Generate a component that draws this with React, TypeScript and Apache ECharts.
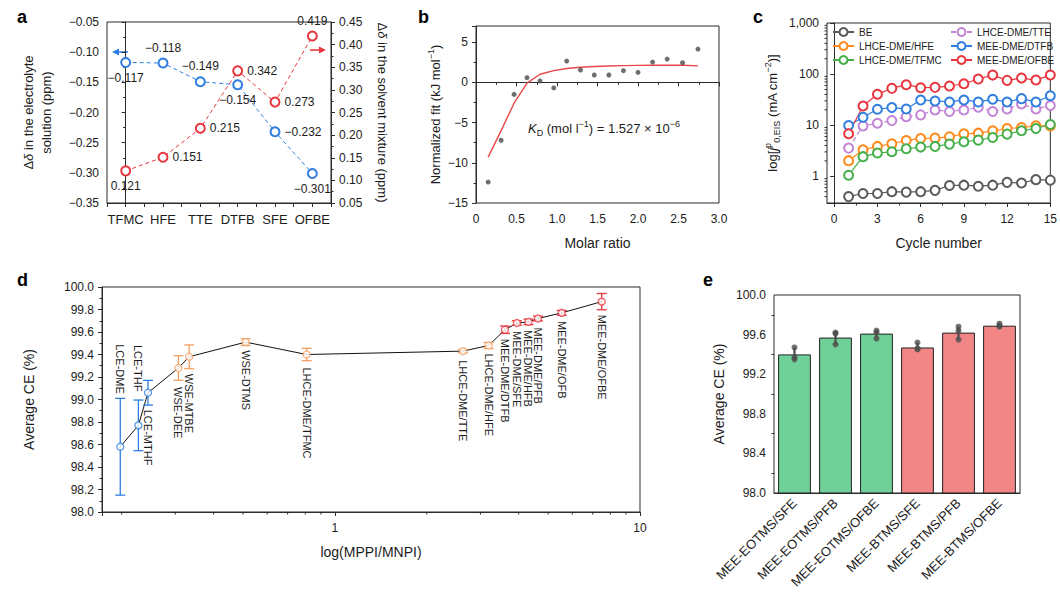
import React, { useEffect, useRef } from 'react';
import * as echarts from 'echarts';

const FONT = '"Liberation Sans", Arial, Helvetica, sans-serif';
const INK = '#1c1c1c';
const AXIS = '#2b2b2b';
const BLUE = '#2f7ee0';
const RED = '#e8363e';
const ORANGE = '#f4a062';
const GREEN_BAR = '#6fd198';
const RED_BAR = '#f28686';

// panel a: chemical shift changes
const solvents = ['TFMC', 'HFE', 'TTE', 'DTFB', 'SFE', 'OFBE'];
const shiftInElectrolyte = [-0.117, -0.118, -0.149, -0.154, -0.232, -0.301];
const shiftInSolvent = [0.121, 0.151, 0.215, 0.342, 0.273, 0.419];
const electrolyteLabelSide = ['bottom', 'top', 'top', 'bottom', 'right', 'bottom'];
const solventLabelSide = ['bottom', 'right', 'right', 'right', 'right', 'top'];

// panel b: titration
const molarRatio = [0.15, 0.31, 0.47, 0.63, 0.79, 0.96, 1.12, 1.29, 1.46, 1.64, 1.82, 2.0, 2.18, 2.36, 2.55, 2.74];
const normalizedHeat = [-12.4, -7.2, -1.5, 0.58, 0.17, -0.7, 2.64, 1.53, 0.91, 0.91, 1.45, 1.24, 2.52, 2.89, 2.44, 4.13];
const fittedHeat = [-9.3, -6.0, -2.6, -0.1, 1.0, 1.45, 1.72, 1.88, 1.97, 2.03, 2.07, 2.1, 2.12, 2.13, 2.13, 2.05];

// panel c: exchange current density
const cycleNumber = [1, 2, 3, 4, 5, 6, 7, 8, 9, 10, 11, 12, 13, 14, 15];
const j0BE = [0.4, 0.46, 0.46, 0.5, 0.49, 0.5, 0.53, 0.66, 0.67, 0.64, 0.67, 0.76, 0.74, 0.86, 0.84];
const j0HFE = [2.02, 3.31, 3.84, 4.33, 5.03, 5.5, 5.58, 5.93, 6.78, 6.98, 7.76, 8.61, 9.0, 9.7, 9.7];
const j0TFMC = [1.05, 2.42, 2.85, 3.02, 3.46, 3.73, 3.84, 4.26, 4.74, 5.1, 5.75, 6.68, 7.76, 8.61, 10.3];
const j0TTE = [3.56, 9.7, 10.9, 12.3, 14.7, 15.9, 19.9, 18.5, 19.9, 22.4, 18.5, 20.8, 26.0, 20.8, 24.2];
const j0DTFB = [9.86, 14.3, 20.5, 22.1, 20.8, 31.2, 29.8, 28.5, 31.2, 28.5, 32.1, 28.5, 33.1, 28.5, 37.8];
const j0OFBE = [6.78, 23.8, 40.2, 52.6, 62.0, 54.2, 55.0, 58.4, 64.8, 80.0, 95.7, 75.3, 83.6, 76.4, 95.7];
const cycleTicks = [0, 3, 6, 9, 12, 15];
const cycleMinorTicks = [1.5, 4.5, 7.5, 10.5, 13.5];
const logMinorTicks = [0.4, 0.5, 0.6, 0.7, 0.8, 0.9, 2, 3, 4, 5, 6, 7, 8, 9, 20, 30, 40, 50, 60, 70, 80, 90, 200, 300, 400, 500, 600, 700, 800, 900];
const legendLeft = ['BE', 'LHCE-DME/HFE', 'LHCE-DME/TFMC'];
const legendRight = ['LHCE-DME/TTE', 'MEE-DME/DTFB', 'MEE-DME/OFBE'];

// panel d: CE versus MPPI/MNPI
const dNames = ['LCE-DME', 'LCE-THF', 'LCE-MTHF', 'WSE-DEE', 'WSE-MTBE', 'WSE-DTMS', 'LHCE-DME/TFMC', 'LHCE-DME/TTE', 'LHCE-DME/HFE', 'MEE-DME/DTFB', 'MEE-DME/SFE', 'MEE-DME/HFB', 'MEE-DME/PFB', 'MEE-DME/OFB', 'MEE-DME/OFBE'];
const dRatio = [0.198, 0.227, 0.244, 0.307, 0.333, 0.51, 0.808, 2.63, 3.19, 3.61, 3.95, 4.31, 4.63, 5.54, 7.49];
const dCE = [98.58, 98.77, 99.06, 99.28, 99.38, 99.51, 99.4, 99.43, 99.48, 99.62, 99.68, 99.69, 99.72, 99.77, 99.87];
const dErr = [0.43, 0.225, 0.11, 0.11, 0.105, 0.03, 0.055, 0.015, 0.027, 0.033, 0.02, 0.024, 0.021, 0.021, 0.072];
const dFamily = ['LCE', 'LCE', 'LCE', 'WSE', 'WSE', 'WSE', 'LHCE', 'LHCE', 'LHCE', 'MEE', 'MEE', 'MEE', 'MEE', 'MEE', 'MEE'];
const dLabelSide = ['top', 'top', 'bottom', 'bottom', 'bottom', 'bottom', 'bottom', 'bottom', 'bottom', 'bottom', 'bottom', 'bottom', 'bottom', 'bottom', 'bottom'];
const dLabelGap = [53, 34, 17, 19, 17, 8, 13, 9, 8, 9, 8, 8, 9, 8, 13];
const dMinorTicks = [0.2, 0.3, 0.4, 0.5, 0.6, 0.7, 0.8, 0.9, 2, 3, 4, 5, 6, 7, 8, 9];

// panel e: CE of MEE variants
const eNames = ['MEE-EOTMS/SFE', 'MEE-EOTMS/PFB', 'MEE-EOTMS/OFBE', 'MEE-BTMS/SFE', 'MEE-BTMS/PFB', 'MEE-BTMS/OFBE'];
const eMean = [99.4, 99.57, 99.61, 99.47, 99.62, 99.69];
const eRepeats = [
  [99.47, 99.37, 99.35],
  [99.62, 99.61, 99.5],
  [99.64, 99.62, 99.56],
  [99.52, 99.46, 99.45],
  [99.68, 99.64, 99.55],
  [99.71, 99.69, 99.68],
];

const minus = (s: string) => s.replace('-', '\u2212');
const isPow10 = (v: number) => Math.abs(Math.log10(v) - Math.round(Math.log10(v))) < 1e-6;

const rich = (size: number) => {
  const small = Math.round(size * 0.7);
  const lh = Math.round(size * 1.4);
  return {
    n: { fontSize: size, fontFamily: FONT, color: INK },
    i: { fontSize: size, fontFamily: FONT, color: INK, fontStyle: 'italic' },
    sup: { fontSize: small, fontFamily: FONT, color: INK, verticalAlign: 'top', lineHeight: lh },
    sub: { fontSize: small, fontFamily: FONT, color: INK, verticalAlign: 'bottom', lineHeight: lh },
  };
};

const line = { lineStyle: { color: AXIS, width: 1 } };
const tickLabel = (size = 12, extra = {}) => ({ color: INK, fontSize: size, fontFamily: FONT, ...extra });
const nameStyle = (size = 14) => ({ color: INK, fontSize: size, fontFamily: FONT, rich: rich(size) });

const App = () => {
  const chartRef = useRef<HTMLDivElement>(null);

  useEffect(() => {
    const chart = echarts.init(chartRef.current, null, { renderer: 'svg' });

    const exchangeSeries = [
      { name: 'BE', data: j0BE, color: '#5a5a5a', dashed: false },
      { name: 'LHCE-DME/HFE', data: j0HFE, color: '#ff8a1c', dashed: false },
      { name: 'LHCE-DME/TFMC', data: j0TFMC, color: '#45b04a', dashed: false },
      { name: 'LHCE-DME/TTE', data: j0TTE, color: '#c383d6', dashed: true },
      { name: 'MEE-DME/DTFB', data: j0DTFB, color: BLUE, dashed: false },
      { name: 'MEE-DME/OFBE', data: j0OFBE, color: RED, dashed: false },
    ];

    const legendBase = {
      orient: 'vertical', top: 27, padding: 0, itemGap: 4, itemWidth: 21, itemHeight: 10,
      selectedMode: false, textStyle: { fontSize: 10, color: INK, fontFamily: FONT },
    };

    const errorBarRender = (color: string) => (params: any, api: any) => {
      const x = api.value(0);
      const top = api.coord([x, api.value(2)]);
      const bot = api.coord([x, api.value(1)]);
      const w = 5;
      const style = { stroke: color, lineWidth: 1.3 };
      return {
        type: 'group',
        children: [
          { type: 'line', shape: { x1: top[0], y1: top[1], x2: bot[0], y2: bot[1] }, style },
          { type: 'line', shape: { x1: top[0] - w, y1: top[1], x2: top[0] + w, y2: top[1] }, style },
          { type: 'line', shape: { x1: bot[0] - w, y1: bot[1], x2: bot[0] + w, y2: bot[1] }, style },
        ],
      };
    };

    const dIdx = (fam: string[]) => dNames.map((_, i) => i).filter((i) => fam.includes(dFamily[i]));
    const dGroups = [
      { idx: dIdx(['LCE']), color: BLUE },
      { idx: dIdx(['WSE', 'LHCE']), color: ORANGE },
      { idx: dIdx(['MEE']), color: RED },
    ];

    const signedLabel = (p: any) => {
      const v = p.value[1];
      return (v < 0 ? '\u2212' : '') + Math.abs(v).toFixed(3);
    };

    const option = {
      animation: false,
      textStyle: { fontFamily: FONT },
      grid: [
        { left: 107, top: 22, width: 224, height: 181 },
        { left: 476, top: 26, width: 243, height: 177 },
        { left: 827, top: 23, width: 225, height: 180 },
        { left: 102, top: 287, width: 538, height: 225 },
        { left: 774, top: 295, width: 246, height: 198 },
      ].map((g) => ({ ...g, show: true, borderColor: AXIS, borderWidth: 1, backgroundColor: 'transparent' })),
      legend: [
        { ...legendBase, left: 832, data: legendLeft },
        { ...legendBase, left: 950, data: legendRight },
      ],
      xAxis: [
        {
          gridIndex: 0, type: 'value', min: -0.5, max: 5.5, interval: 0.5,
          axisLine: line, axisTick: { length: 4, ...line }, splitLine: { show: false },
          axisLabel: tickLabel(13, { margin: 10, formatter: (v: number) => (Number.isInteger(v) ? solvents[v] : '') }),
        },
        {
          gridIndex: 1, type: 'value', min: 0, max: 3, interval: 0.5,
          name: 'Molar ratio', nameLocation: 'middle', nameGap: 33, nameTextStyle: nameStyle(14),
          axisLine: line, axisTick: { length: 4, ...line }, minorTick: { show: true, splitNumber: 2, length: 2.5, ...line },
          splitLine: { show: false }, minorSplitLine: { show: false },
          axisLabel: tickLabel(12, { margin: 10, formatter: (v: number) => (v === 0 ? '0' : v.toFixed(1)) }),
        },
        {
          gridIndex: 2, type: 'value', min: -0.5, max: 15,
          name: 'Cycle number', nameLocation: 'middle', nameGap: 33, nameTextStyle: nameStyle(14),
          axisLine: line, axisTick: { length: 4, customValues: cycleTicks, ...line }, splitLine: { show: false },
          axisLabel: tickLabel(12, { margin: 10, customValues: cycleTicks }),
        },
        {
          gridIndex: 2, type: 'value', min: -0.5, max: 15, position: 'bottom',
          axisLine: { show: false }, axisTick: { length: 2.5, customValues: cycleMinorTicks, ...line },
          axisLabel: { show: false }, splitLine: { show: false },
        },
        {
          gridIndex: 3, type: 'log', logBase: 10, min: 0.1725, max: 10,
          name: 'log(MPPI/MNPI)', nameLocation: 'middle', nameGap: 33, nameTextStyle: nameStyle(14),
          axisLine: line, axisTick: { length: 4, ...line }, splitLine: { show: false }, minorTick: { show: false },
          axisLabel: tickLabel(12, { margin: 10, formatter: (v: number) => (isPow10(v) ? String(Math.round(v)) : '') }),
        },
        {
          gridIndex: 4, type: 'category', data: eNames,
          axisLine: line, axisTick: { length: 4, interval: 0, alignWithLabel: false, ...line },
          axisLabel: tickLabel(13, { rotate: 45, interval: 0, margin: 8 }),
        },
        {
          gridIndex: 4, type: 'category', data: eNames, position: 'bottom',
          axisLine: { show: false }, axisTick: { length: 4, interval: 0, alignWithLabel: true, ...line },
          axisLabel: { show: false },
        },
      ],
      yAxis: [
        {
          gridIndex: 0, type: 'value', position: 'left', min: -0.35, max: -0.05, interval: 0.05,
          name: '{n|\u0394}{i|\u03b4}{n| in the electrolyte}\n{n|solution (ppm)}',
          nameLocation: 'middle', nameGap: 52, nameTextStyle: { ...nameStyle(13), lineHeight: 18 },
          axisLine: line, axisTick: { length: 4, ...line }, minorTick: { show: true, splitNumber: 2, length: 2.5, ...line },
          splitLine: { show: false },
          axisLabel: tickLabel(12, { formatter: (v: number) => minus(v.toFixed(2)) }),
        },
        {
          gridIndex: 0, type: 'value', position: 'right', min: 0.05, max: 0.45, interval: 0.05,
          name: '{n|\u0394}{i|\u03b4}{n| in the solvent mixture (ppm)}',
          nameLocation: 'middle', nameRotate: -90, nameGap: 45, nameTextStyle: nameStyle(13),
          axisLine: line, axisTick: { length: 4, ...line }, minorTick: { show: true, splitNumber: 2, length: 2.5, ...line },
          splitLine: { show: false },
          axisLabel: tickLabel(12, { formatter: (v: number) => v.toFixed(2) }),
        },
        {
          gridIndex: 1, type: 'value', min: -15, max: 7, interval: 5,
          name: '{n|Normalized fit (kJ mol}{sup|\u22121}{n|)}',
          nameLocation: 'middle', nameGap: 32, nameTextStyle: nameStyle(13),
          axisLine: line, axisTick: { length: 4, ...line }, minorTick: { show: true, splitNumber: 2, length: 2.5, ...line },
          splitLine: { show: false },
          axisLabel: tickLabel(12, { formatter: (v: number) => (v % 5 === 0 ? minus(String(v)) : '') }),
        },
        {
          gridIndex: 2, type: 'log', logBase: 10, min: 0.3, max: 1000,
          name: '{n|log[}{i|j}{sup|p}{sub|0,EIS}{n| (mA cm}{sup|\u22122}{n|)]}',
          nameLocation: 'middle', nameGap: 46, nameTextStyle: nameStyle(13),
          axisLine: line, axisTick: { length: 4, ...line }, splitLine: { show: false },
          axisLabel: tickLabel(12, { formatter: (v: number) => (isPow10(v) ? Math.round(v).toLocaleString('en-US') : '') }),
        },
        {
          gridIndex: 3, type: 'value', min: 98, max: 100, interval: 0.2,
          name: 'Average CE (%)', nameLocation: 'middle', nameGap: 66, nameTextStyle: nameStyle(14),
          axisLine: line, axisTick: { length: 4, ...line }, minorTick: { show: true, splitNumber: 2, length: 2.5, ...line },
          splitLine: { show: false },
          axisLabel: tickLabel(12, { formatter: (v: number) => v.toFixed(1) }),
        },
        {
          gridIndex: 4, type: 'value', min: 98, max: 100, interval: 0.4,
          name: 'Average CE (%)', nameLocation: 'middle', nameGap: 48, nameTextStyle: nameStyle(14),
          axisLine: line, axisTick: { length: 4, ...line }, minorTick: { show: true, splitNumber: 2, length: 2.5, ...line },
          splitLine: { show: false },
          axisLabel: tickLabel(12, { formatter: (v: number) => v.toFixed(1) }),
        },
      ],
      series: [
        // a
        {
          type: 'line', xAxisIndex: 0, yAxisIndex: 0,
          data: shiftInElectrolyte.map((v, i) => ({ value: [i, v], label: { position: electrolyteLabelSide[i] } })),
          symbol: 'emptyCircle', symbolSize: 9, color: BLUE, itemStyle: { borderWidth: 1.5 },
          lineStyle: { color: BLUE, width: 1, type: [4, 3] },
          label: { show: true, formatter: signedLabel, distance: 4, ...tickLabel(12) },
        },
        {
          type: 'line', xAxisIndex: 0, yAxisIndex: 1,
          data: shiftInSolvent.map((v, i) => ({ value: [i, v], label: { position: solventLabelSide[i] } })),
          symbol: 'emptyCircle', symbolSize: 9, color: RED, itemStyle: { borderWidth: 1.5 },
          lineStyle: { color: RED, width: 1, type: [4, 3] },
          label: { show: true, formatter: signedLabel, distance: 4, ...tickLabel(12) },
        },
        // b
        {
          type: 'line', xAxisIndex: 1, yAxisIndex: 2, showSymbol: false, symbol: 'none',
          data: molarRatio.map((x, i) => [x, fittedHeat[i]]),
          lineStyle: { color: '#e8474a', width: 1.4 }, z: 2,
        },
        {
          type: 'scatter', xAxisIndex: 1, yAxisIndex: 2, symbolSize: 5,
          data: molarRatio.map((x, i) => [x, normalizedHeat[i]]),
          itemStyle: { color: '#4a4a4a' }, z: 3,
        },
        // c
        ...exchangeSeries.map((s) => ({
          type: 'line', name: s.name, xAxisIndex: 2, yAxisIndex: 3,
          data: cycleNumber.map((c, i) => [c, s.data[i]]),
          symbol: 'emptyCircle', symbolSize: 9, color: s.color, itemStyle: { borderWidth: 1.5 },
          lineStyle: { color: s.color, width: 1.2, type: s.dashed ? [5, 3] : 'solid' },
        })),
        {
          type: 'custom', xAxisIndex: 2, yAxisIndex: 3, silent: true,
          data: logMinorTicks.map((v) => [-0.5, v]),
          renderItem: (params: any, api: any) => {
            const p = api.coord([api.value(0), api.value(1)]);
            return { type: 'line', shape: { x1: p[0] - 2.5, y1: p[1], x2: p[0], y2: p[1] }, style: { stroke: AXIS, lineWidth: 1 } };
          },
        },
        // d
        {
          type: 'line', xAxisIndex: 4, yAxisIndex: 4, symbol: 'none',
          data: dRatio.map((x, i) => [x, dCE[i]]),
          lineStyle: { color: '#111', width: 1 }, z: 1,
        },
        ...dGroups.map((g) => ({
          type: 'custom', xAxisIndex: 4, yAxisIndex: 4, silent: true, z: 2,
          data: g.idx.map((i) => [dRatio[i], dCE[i] - dErr[i], dCE[i] + dErr[i]]),
          renderItem: errorBarRender(g.color),
        })),
        ...dGroups.map((g) => ({
          type: 'scatter', xAxisIndex: 4, yAxisIndex: 4, z: 3,
          data: g.idx.map((i) => [dRatio[i], dCE[i]]),
          symbol: 'circle', symbolSize: 7,
          itemStyle: { color: '#fff', borderColor: g.color, borderWidth: 1.3 },
        })),
        {
          type: 'custom', xAxisIndex: 4, yAxisIndex: 4, silent: true, z: 4,
          data: dRatio.map((x, i) => [x, dCE[i]]),
          renderItem: (params: any, api: any) => {
            const i = params.dataIndex;
            const p = api.coord([api.value(0), api.value(1)]);
            const up = dLabelSide[i] === 'top';
            return {
              type: 'text', x: p[0], y: up ? p[1] - dLabelGap[i] : p[1] + dLabelGap[i], rotation: -Math.PI / 2,
              style: { text: dNames[i], align: up ? 'right' : 'left', verticalAlign: 'middle', fontSize: 11, fontFamily: FONT, fill: INK },
            };
          },
        },
        {
          type: 'custom', xAxisIndex: 4, yAxisIndex: 4, silent: true,
          data: dMinorTicks.map((v) => [v, 98]),
          renderItem: (params: any, api: any) => {
            const p = api.coord([api.value(0), api.value(1)]);
            return { type: 'line', shape: { x1: p[0], y1: p[1], x2: p[0], y2: p[1] + 2.5 }, style: { stroke: AXIS, lineWidth: 1 } };
          },
        },
        // e
        {
          type: 'bar', xAxisIndex: 5, yAxisIndex: 5, barWidth: '80%',
          data: eMean.map((v, i) => ({ value: v, itemStyle: { color: eNames[i].includes('EOTMS') ? GREEN_BAR : RED_BAR } })),
          itemStyle: { borderColor: '#222', borderWidth: 1 },
        },
        {
          type: 'custom', xAxisIndex: 5, yAxisIndex: 5, silent: true, z: 3,
          data: eRepeats.map((r, i) => [i, Math.min(...r), Math.max(...r)]),
          renderItem: (params: any, api: any) => {
            const top = api.coord([api.value(0), api.value(2)]);
            const bot = api.coord([api.value(0), api.value(1)]);
            return { type: 'line', shape: { x1: top[0], y1: top[1], x2: bot[0], y2: bot[1] }, style: { stroke: '#4a4a4a', lineWidth: 2.2 } };
          },
        },
        {
          type: 'scatter', xAxisIndex: 5, yAxisIndex: 5, symbolSize: 6, z: 4,
          data: eRepeats.flatMap((r, i) => r.map((v) => [i, v])),
          itemStyle: { color: '#4d4d4d' },
        },
      ],
      graphic: [
        ...[
          ['a', 17, 17], ['b', 418, 17], ['c', 753, 17], ['d', 17, 280], ['e', 703, 280],
        ].map(([t, x, y]) => ({
          type: 'text', x, y,
          style: { text: t, fontSize: 18, fontWeight: 'bold', fontFamily: FONT, fill: '#000', verticalAlign: 'middle' },
        })),
        { type: 'line', shape: { x1: 128, y1: 52, x2: 117, y2: 52 }, style: { stroke: BLUE, lineWidth: 1.6 } },
        { type: 'polygon', shape: { points: [[112, 52], [119, 48.5], [119, 55.5]] }, style: { fill: BLUE } },
        { type: 'line', shape: { x1: 310, y1: 50, x2: 320, y2: 50 }, style: { stroke: RED, lineWidth: 1.6 } },
        { type: 'polygon', shape: { points: [[326, 50], [319, 46.5], [319, 53.5]] }, style: { fill: RED } },
        {
          type: 'text', x: 528, y: 128,
          style: {
            text: '{i|K}{sub|D}{n| (mol l}{sup|\u22121}{n|) = 1.527 \u00d7 10}{sup|\u22126}',
            rich: rich(13), verticalAlign: 'middle', fill: INK,
          },
        },
      ],
    };

    chart.setOption(option as any);

    return () => {
      chart.dispose();
    };
  }, []);

  return <div ref={chartRef} style={{ position: 'absolute', left: 0, top: 0, width: '1060px', height: '600px' }} />;
};

export default App;
